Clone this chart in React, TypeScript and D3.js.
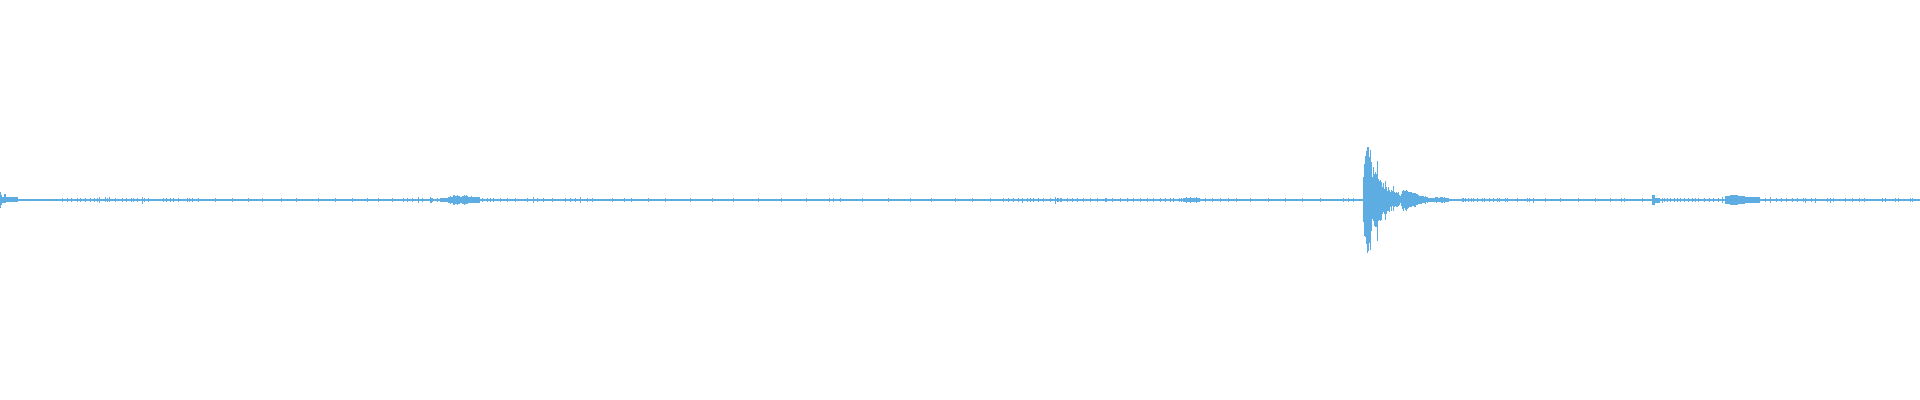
import React from "react";
import * as d3 from "d3";

const WIDTH = 1920;
const HEIGHT = 400;
const WAVE_COLOR = "#5dade2";

// baseline noise floor (normalized amplitude, up / down)
const FLOOR_UP = 0.005;
const FLOOR_DOWN = 0.005;

// dense noise stretches: [startColumn, endColumn, up, down]
const BANDS: [number, number, number, number][] = [
  [0, 1, 0.042, 0.038],
  [1, 2, 0.025, 0.025],
  [2, 4, 0.017, 0.015],
  [4, 6, 0.028, 0.017],
  [6, 18, 0.015, 0.011],
  [18, 60, 0.007, 0.007],
  [440, 448, 0.01, 0.01],
  [448, 453, 0.016, 0.016],
  [453, 455, 0.025, 0.027],
  [455, 460, 0.019, 0.021],
  [460, 462, 0.013, 0.013],
  [462, 468, 0.02, 0.019],
  [468, 480, 0.013, 0.014],
  [480, 497, 0.007, 0.007],
  [1183, 1200, 0.008, 0.008],
  [1652, 1655, 0.025, 0.025],
  [1655, 1660, 0.012, 0.013],
  [1700, 1725, 0.007, 0.007],
  [1725, 1730, 0.018, 0.02],
  [1730, 1738, 0.025, 0.027],
  [1738, 1745, 0.018, 0.018],
  [1745, 1760, 0.013, 0.013],
  [1760, 1820, 0.007, 0.007],
  [1820, 1920, 0.006, 0.006],
];

// isolated peaks: [column, up, down]
const TICKS: [number, number, number][] = [
  [62, 0.01, 0.01], [67, 0.01, 0.008], [71, 0.008, 0.01], [77, 0.01, 0.01], [80, 0.008, 0.008],
  [85, 0.01, 0.01], [90, 0.012, 0.012], [94, 0.01, 0.01], [97, 0.012, 0.012], [99, 0.015, 0.015],
  [105, 0.013, 0.012], [107, 0.012, 0.01], [109, 0.013, 0.012], [115, 0.008, 0.008], [122, 0.008, 0.008],
  [126, 0.01, 0.01], [131, 0.01, 0.01], [133, 0.012, 0.012], [137, 0.012, 0.01], [142, 0.015, 0.02],
  [144, 0.012, 0.012], [148, 0.01, 0.01], [163, 0.01, 0.008], [166, 0.01, 0.01], [170, 0.008, 0.008],
  [173, 0.008, 0.008], [178, 0.01, 0.008], [187, 0.012, 0.01], [189, 0.012, 0.012], [192, 0.01, 0.01],
  [198, 0.01, 0.01], [215, 0.01, 0.01], [232, 0.008, 0.008], [248, 0.01, 0.01], [262, 0.01, 0.012],
  [281, 0.008, 0.008], [296, 0.01, 0.01], [318, 0.008, 0.01], [335, 0.01, 0.01], [352, 0.012, 0.01],
  [367, 0.01, 0.01], [378, 0.008, 0.008], [392, 0.01, 0.01],
  [403, 0.008, 0.008], [407, 0.01, 0.01], [412, 0.008, 0.01], [418, 0.013, 0.013], [422, 0.01, 0.01],
  [430, 0.013, 0.013], [431, 0.012, 0.013], [432, 0.012, 0.012], [437, 0.01, 0.01], [450, 0.02, 0.02],
  [457, 0.024, 0.026], [464, 0.025, 0.024], [466, 0.023, 0.022], [471, 0.018, 0.017], [475, 0.016, 0.015],
  [482, 0.01, 0.01], [487, 0.012, 0.01], [490, 0.01, 0.01], [493, 0.008, 0.01], [500, 0.008, 0.008],
  [507, 0.008, 0.008], [515, 0.008, 0.008],
  [527, 0.008, 0.008], [533, 0.013, 0.013], [537, 0.01, 0.01], [543, 0.008, 0.008], [552, 0.008, 0.008],
  [565, 0.01, 0.01], [570, 0.01, 0.012], [575, 0.012, 0.01], [580, 0.013, 0.015], [587, 0.008, 0.008],
  [592, 0.008, 0.008],
  [612, 0.008, 0.008], [624, 0.012, 0.012], [631, 0.01, 0.01], [648, 0.008, 0.008], [665, 0.008, 0.008],
  [690, 0.01, 0.01], [712, 0.008, 0.008], [733, 0.008, 0.008], [758, 0.01, 0.01], [781, 0.008, 0.008],
  [806, 0.008, 0.008], [829, 0.012, 0.01], [833, 0.012, 0.012], [840, 0.01, 0.01], [862, 0.008, 0.008],
  [888, 0.008, 0.008], [910, 0.01, 0.01], [931, 0.008, 0.008], [955, 0.01, 0.01], [972, 0.008, 0.008],
  [990, 0.008, 0.008],
  [1003, 0.008, 0.008], [1008, 0.008, 0.008], [1013, 0.008, 0.008], [1018, 0.008, 0.008], [1022, 0.01, 0.013],
  [1027, 0.008, 0.008], [1030, 0.008, 0.008], [1033, 0.008, 0.008], [1038, 0.008, 0.008], [1043, 0.008, 0.008],
  [1050, 0.01, 0.01], [1055, 0.013, 0.02], [1057, 0.01, 0.01], [1058, 0.01, 0.01], [1060, 0.012, 0.012],
  [1061, 0.01, 0.01], [1067, 0.008, 0.008], [1072, 0.008, 0.008], [1077, 0.008, 0.008], [1083, 0.008, 0.008],
  [1090, 0.008, 0.008], [1097, 0.008, 0.008], [1105, 0.01, 0.01], [1106, 0.012, 0.01], [1112, 0.01, 0.01],
  [1120, 0.008, 0.008], [1127, 0.008, 0.008], [1133, 0.008, 0.008], [1140, 0.008, 0.008], [1147, 0.008, 0.008],
  [1153, 0.008, 0.008], [1160, 0.008, 0.008], [1165, 0.008, 0.008], [1170, 0.008, 0.008], [1173, 0.008, 0.008],
  [1179, 0.012, 0.012], [1181, 0.012, 0.012], [1186, 0.015, 0.015], [1190, 0.013, 0.013], [1196, 0.015, 0.013],
  [1205, 0.01, 0.01], [1212, 0.008, 0.008], [1220, 0.01, 0.01], [1228, 0.008, 0.008], [1236, 0.01, 0.01],
  [1250, 0.008, 0.008], [1268, 0.008, 0.008], [1285, 0.008, 0.008], [1302, 0.008, 0.008], [1320, 0.008, 0.008],
  [1343, 0.008, 0.008], [1348, 0.01, 0.01], [1353, 0.008, 0.008],
  [1462, 0.01, 0.01], [1463, 0.012, 0.01], [1465, 0.01, 0.01], [1468, 0.01, 0.008], [1471, 0.01, 0.008],
  [1473, 0.008, 0.008], [1477, 0.012, 0.01], [1482, 0.008, 0.008], [1484, 0.008, 0.008], [1489, 0.008, 0.008],
  [1493, 0.008, 0.008], [1497, 0.008, 0.008], [1499, 0.008, 0.008], [1505, 0.008, 0.008], [1507, 0.008, 0.008],
  [1517, 0.008, 0.008], [1527, 0.008, 0.008], [1529, 0.008, 0.008], [1533, 0.01, 0.015], [1545, 0.008, 0.008],
  [1560, 0.008, 0.008], [1578, 0.008, 0.008], [1595, 0.008, 0.008], [1610, 0.008, 0.008], [1621, 0.008, 0.008],
  [1624, 0.008, 0.01], [1642, 0.008, 0.008],
  [1662, 0.012, 0.013], [1664, 0.01, 0.01], [1667, 0.01, 0.01], [1670, 0.01, 0.01], [1674, 0.008, 0.008],
  [1677, 0.01, 0.01], [1680, 0.008, 0.008], [1684, 0.01, 0.01], [1688, 0.008, 0.008], [1692, 0.01, 0.01],
  [1695, 0.008, 0.008], [1698, 0.01, 0.01], [1704, 0.01, 0.01], [1709, 0.012, 0.01], [1713, 0.01, 0.012],
  [1718, 0.012, 0.012], [1722, 0.013, 0.013],
  [1765, 0.012, 0.012], [1770, 0.013, 0.013], [1776, 0.01, 0.01], [1781, 0.012, 0.012], [1786, 0.01, 0.01],
  [1792, 0.01, 0.012], [1797, 0.012, 0.012], [1803, 0.01, 0.012], [1805, 0.01, 0.013], [1811, 0.01, 0.01],
  [1815, 0.008, 0.013], [1827, 0.01, 0.01], [1830, 0.008, 0.013], [1833, 0.01, 0.01], [1845, 0.01, 0.01],
  [1852, 0.01, 0.008], [1859, 0.01, 0.01], [1864, 0.01, 0.01], [1882, 0.01, 0.01], [1885, 0.01, 0.008],
  [1895, 0.01, 0.01], [1898, 0.01, 0.01], [1910, 0.01, 0.01], [1912, 0.01, 0.01],
];

// the big hit, one value per column from BURST_START
const BURST_START = 1363;
const BURST_UP = [
  0.114, 0.18, 0.22, 0.245, 0.265, 0.263, 0.213, 0.25, 0.188, 0.113,
  0.163, 0.13, 0.138, 0.13, 0.197, 0.105, 0.097, 0.1, 0.088, 0.063,
  0.083, 0.055, 0.097, 0.063, 0.047, 0.063, 0.05, 0.038, 0.05, 0.047,
  0.072, 0.038, 0.033, 0.038, 0.033, 0.038, 0.027, 0.022, 0.03, 0.047,
  0.05, 0.043, 0.047, 0.05, 0.047, 0.042, 0.04, 0.04, 0.038, 0.035,
  0.033, 0.035, 0.033, 0.03, 0.028, 0.025, 0.022, 0.02, 0.022, 0.018,
  0.02, 0.015, 0.018, 0.013, 0.015, 0.012, 0.012, 0.01, 0.012, 0.01,
  0.012, 0.01, 0.013, 0.015, 0.013, 0.012, 0.01, 0.013, 0.015, 0.013,
  0.012, 0.015, 0.012, 0.01, 0.012, 0.008,
];
const BURST_DOWN = [
  0.112, 0.178, 0.183, 0.22, 0.267, 0.253, 0.217, 0.25, 0.153, 0.095,
  0.103, 0.128, 0.137, 0.137, 0.203, 0.103, 0.1, 0.103, 0.1, 0.07,
  0.062, 0.07, 0.1, 0.07, 0.053, 0.053, 0.062, 0.037, 0.053, 0.028,
  0.057, 0.037, 0.028, 0.037, 0.033, 0.028, 0.023, 0.017, 0.028, 0.045,
  0.053, 0.04, 0.05, 0.053, 0.045, 0.04, 0.035, 0.035, 0.037, 0.03,
  0.03, 0.033, 0.033, 0.027, 0.025, 0.022, 0.02, 0.018, 0.018, 0.015,
  0.017, 0.013, 0.02, 0.012, 0.013, 0.012, 0.01, 0.01, 0.01, 0.01,
  0.012, 0.01, 0.012, 0.013, 0.012, 0.01, 0.01, 0.012, 0.013, 0.013,
  0.012, 0.013, 0.012, 0.01, 0.01, 0.008,
];

export default function App() {
  const x = d3.scaleLinear().domain([0, WIDTH]).range([0, WIDTH]);
  const y = d3.scaleLinear().domain([-1, 1]).range([HEIGHT, 0]);

  const bar = (x0: number, x1: number, up: number, down: number, key: string) => (
    <rect
      key={key}
      x={x(x0)}
      width={x(x1) - x(x0)}
      y={y(up)}
      height={y(-down) - y(up)}
    />
  );

  return (
    <svg
      width={WIDTH}
      height={HEIGHT}
      style={{ position: "absolute", left: 0, top: 0, background: "#fff" }}
    >
      <g fill={WAVE_COLOR} shapeRendering="crispEdges">
        {bar(0, WIDTH, FLOOR_UP, FLOOR_DOWN, "floor")}
        {BANDS.map((b, i) => bar(b[0], b[1], b[2], b[3], `band-${i}`))}
        {TICKS.map((t, i) => bar(t[0], t[0] + 1, t[1], t[2], `tick-${i}`))}
        {BURST_UP.map((u, i) =>
          bar(BURST_START + i, BURST_START + i + 1, u, BURST_DOWN[i], `burst-${i}`)
        )}
      </g>
    </svg>
  );
}
